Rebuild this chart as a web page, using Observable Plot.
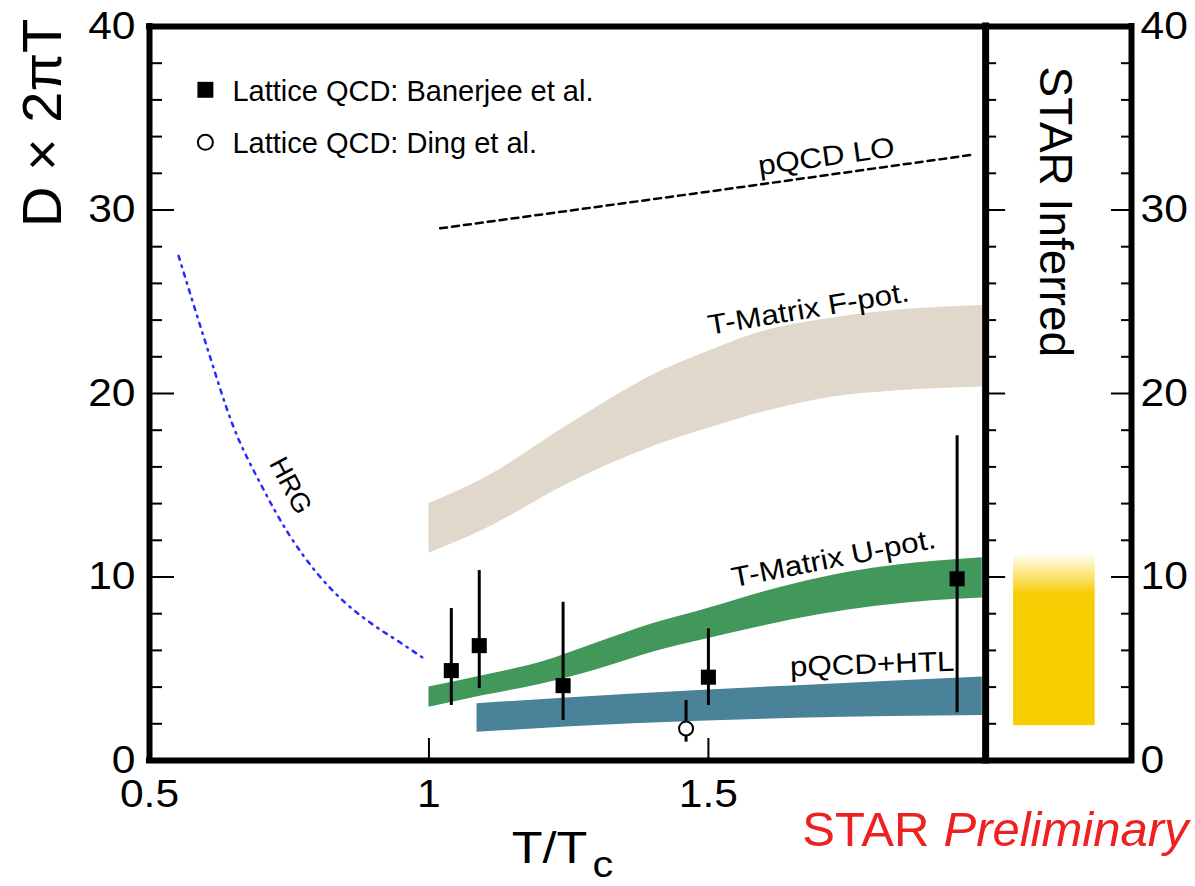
<!DOCTYPE html>
<html><head><meta charset="utf-8">
<script src="https://cdn.jsdelivr.net/npm/d3@7"></script>
<script src="https://cdn.jsdelivr.net/npm/@observablehq/plot@0.6"></script>
<style>body{margin:0;background:#fff}</style>
</head><body><div id="chart"></div>
<script>
// ---------- data ----------
const fpotT  = [1.0, 1.10, 1.25, 1.40, 1.50, 1.60, 1.72, 1.84, 1.99];
const fpotHi = [14.0, 15.4, 18.3, 21.0, 22.3, 23.4, 24.1, 24.55, 24.8];
const fpotLo = [11.3, 12.6, 15.1, 17.1, 18.1, 19.0, 19.8, 20.15, 20.35];

const upotT  = [1.0, 1.1, 1.2, 1.3, 1.4, 1.5, 1.6, 1.7, 1.8, 1.9, 1.99];
const upotHi = [4.0, 4.65, 5.35, 6.4, 7.45, 8.3, 9.2, 9.95, 10.5, 10.85, 11.05];
const upotLo = [2.9, 3.55, 4.15, 4.95, 5.9, 6.65, 7.35, 7.95, 8.4, 8.7, 8.85];

const htlT  = [1.086, 1.366, 1.66, 1.99];
const htlHi = [3.09, 3.63, 4.08, 4.55];
const htlLo = [1.54, 2.0, 2.3, 2.45];

const loT = [1.02, 1.5, 1.97];
const loD = [29.0, 31.0, 33.0];

const hrgT = [0.552, 0.60, 0.65, 0.70, 0.75, 0.80, 0.85, 0.90, 0.95, 0.994];
const hrgD = [27.5, 22.8, 18.2, 15.0, 12.3, 10.2, 8.6, 7.4, 6.4, 5.5];

const banT  = [1.04, 1.09, 1.24, 1.50, 1.945];
const banD  = [4.9, 6.26, 4.08, 4.54, 9.9];
const banLo = [3.0, 3.92, 2.18, 3.0, 2.6];
const banHi = [8.28, 10.35, 8.62, 7.17, 17.7];

const dingT  = [1.46];
const dingD  = [1.74];
const dingLo = [1.0];
const dingHi = [3.27];

const starX = [2.046, 2.192];          // STAR inferred box, T/Tc extent
const starD = [1.9, 9.0, 11.3];        // bottom, solid top, faded top

const legendLabels = ["Lattice QCD: Banerjee et al.", "Lattice QCD: Ding et al."];
const annotationLabels = ["pQCD LO", "T-Matrix F-pot.", "T-Matrix U-pot.", "pQCD+HTL", "HRG", "STAR Inferred"];

const xDomain = [0.5, 2.257];
const yDomain = [0, 40];
const xDivider = 1.996;
const xTickLabels = [0.5, 1, 1.5];
const xTicks = [1, 1.5];
const yTickLabels = [0, 10, 20, 30, 40];
const yMajor = [10, 20, 30];
const yMinor = [2,4,6,8,12,14,16,18,22,24,26,28,32,34,36,38];

// ---------- tables ----------
const band = (T, lo, hi) => T.map((t, i) => ({t, lo: lo[i], hi: hi[i]}));
const fpot = band(fpotT, fpotLo, fpotHi);
const upot = band(upotT, upotLo, upotHi);
const htl = band(htlT, htlLo, htlHi);
const lo = loT.map((t, i) => ({t, d: loD[i]}));
const hrg = hrgT.map((t, i) => ({t, d: hrgD[i]}));
const ban = banT.map((t, i) => ({t, d: banD[i], lo: banLo[i], hi: banHi[i]}));
const ding = dingT.map((t, i) => ({t, d: dingD[i], lo: dingLo[i], hi: dingHi[i]}));

const FONT = "'Liberation Sans', Arial, Helvetica, sans-serif";
const [xMin, xMax] = xDomain;
const [yMin, yMax] = yDomain;
const legY = [36.55, 33.69];
const legX = 0.6;
const WIDE = "wide";   // texts drawn slightly wider, like the reference's font

const chart = Plot.plot({
  width: 1195, height: 886,
  marginLeft: 149, marginRight: 64, marginTop: 26, marginBottom: 126,
  x: {domain: xDomain, axis: null},
  y: {domain: yDomain, axis: null},
  style: {fontFamily: FONT, background: "white", overflow: "visible"},
  marks: [
    // bands
    Plot.areaY(fpot, {x: "t", y1: "lo", y2: "hi", fill: "#e0d8ca", curve: "monotone-x"}),
    Plot.areaY(upot, {x: "t", y1: "lo", y2: "hi", fill: "#41985a", curve: "monotone-x"}),
    Plot.areaY(htl, {x: "t", y1: "lo", y2: "hi", fill: "#4a8399", curve: "monotone-x"}),
    // STAR inferred
    Plot.rect([0], {x1: starX[0], x2: starX[1], y1: starD[0], y2: starD[2], fill: "url(#starGrad)"}),
    // lines
    Plot.line(hrg, {x: "t", y: "d", stroke: "#2b2bff", strokeWidth: 2.5, strokeDasharray: "4,6,1.5,6", curve: "monotone-x"}),
    Plot.line(lo, {x: "t", y: "d", stroke: "black", strokeWidth: 2.5, strokeDasharray: "7,5"}),
    // error bars and points
    Plot.ruleX(ban, {x: "t", y1: "lo", y2: "hi", stroke: "black", strokeWidth: 3}),
    Plot.ruleX(ding, {x: "t", y1: "lo", y2: "hi", stroke: "black", strokeWidth: 3}),
    Plot.dot(ban, {x: "t", y: "d", symbol: "square", fill: "black", r: 8.5}),
    Plot.dot(ding, {x: "t", y: "d", fill: "white", stroke: "black", strokeWidth: 2, r: 7}),
    // frame
    Plot.ruleY([yMin, yMax], {x1: xMin, x2: xMax, stroke: "black", strokeWidth: 6, strokeLinecap: "square"}),
    Plot.ruleX([xMin, xMax], {y1: yMin, y2: yMax, stroke: "black", strokeWidth: 6, strokeLinecap: "square"}),
    Plot.ruleX([xDivider], {y1: yMin, y2: yMax, stroke: "black", strokeWidth: 7, strokeLinecap: "square"}),
    // ticks: left axis (inward)
    Plot.ruleY(yMajor, {x1: xMin, x2: xMin, insetRight: -25, stroke: "black", strokeWidth: 2}),
    Plot.ruleY(yMinor, {x1: xMin, x2: xMin, insetRight: -13, stroke: "black", strokeWidth: 2}),
    // ticks: divider (pointing right)
    Plot.ruleY(yMajor, {x1: xDivider, x2: xDivider, insetRight: -20, stroke: "black", strokeWidth: 2}),
    Plot.ruleY(yMinor, {x1: xDivider, x2: xDivider, insetRight: -11, stroke: "black", strokeWidth: 2}),
    // ticks: right frame (pointing left)
    Plot.ruleY(yMajor, {x1: xMax, x2: xMax, insetLeft: -20, stroke: "black", strokeWidth: 2}),
    Plot.ruleY(yMinor, {x1: xMax, x2: xMax, insetLeft: -10, stroke: "black", strokeWidth: 2}),
    // ticks: x axis
    Plot.ruleX(xTicks, {y1: yMin, y2: yMin, insetBottom: 22, stroke: "black", strokeWidth: 2}),
    // tick labels
    Plot.text(yTickLabels, {x: xMin, y: d => d, text: d => String(d), textAnchor: "end", dx: -14, fontSize: 38, fill: "black", ariaDescription: WIDE}),
    Plot.text(yTickLabels, {x: xMax, y: d => d, text: d => String(d), textAnchor: "start", dx: 9, fontSize: 38, fill: "black", ariaDescription: WIDE}),
    Plot.text(xTickLabels, {x: d => d, y: yMin, text: d => String(d), lineAnchor: "bottom", dy: 46, fontSize: 38, fill: "black", ariaDescription: WIDE}),
    // axis titles
    Plot.text(["T/T"], {x: 1.2835, y: yMin, text: d => d, textAnchor: "end", lineAnchor: "bottom", dy: 102, fontSize: 45, fill: "black", ariaDescription: WIDE}),
    Plot.text(["c"], {x: 1.2835, y: yMin, text: d => d, textAnchor: "start", lineAnchor: "bottom", dx: 5, dy: 116, fontSize: 37, fill: "black", ariaDescription: WIDE}),
    Plot.text(["D × 2πT"], {x: xMin, y: 34.75, text: d => d, rotate: -90, lineAnchor: "bottom", dx: -89, fontSize: 56, fill: "black"}),
    // legend
    Plot.dot([legendLabels[0]], {x: legX, y: legY[0], symbol: "square", fill: "black", r: 9}),
    Plot.dot([legendLabels[1]], {x: legX, y: legY[1], fill: "white", stroke: "black", strokeWidth: 2, r: 7.5}),
    Plot.text([legendLabels[0]], {x: legX, y: legY[0], text: d => d, textAnchor: "start", lineAnchor: "bottom", dx: 27, dy: 11, fontSize: 29, fill: "black"}),
    Plot.text([legendLabels[1]], {x: legX, y: legY[1], text: d => d, textAnchor: "start", lineAnchor: "bottom", dx: 27, dy: 10.5, fontSize: 29, fill: "black"}),
    // annotations
    Plot.text([annotationLabels[0]], {x: 1.711, y: 32.9, text: d => d, rotate: -8, fontSize: 28, fill: "black", ariaDescription: WIDE}),
    Plot.text([annotationLabels[1]], {x: 1.679, y: 24.6, text: d => d, rotate: -9.5, fontSize: 28, fill: "black", ariaDescription: WIDE}),
    Plot.text([annotationLabels[2]], {x: 1.724, y: 11.0, text: d => d, rotate: -11, fontSize: 28, fill: "black", ariaDescription: WIDE}),
    Plot.text([annotationLabels[3]], {x: 1.793, y: 5.23, text: d => d, rotate: -2, fontSize: 28, fill: "black", ariaDescription: WIDE}),
    Plot.text([annotationLabels[4]], {x: 0.752, y: 14.98, text: d => d, rotate: 62, fontSize: 27, fill: "black"}),
    Plot.text([annotationLabels[5]], {x: (starX[0] + starX[1]) / 2, y: 29.9, text: d => d, rotate: 90, fontSize: 46, fill: "black"}),
    // STAR Preliminary
    Plot.text(["STAR"], {x: 1.668, y: yMin, text: d => d, textAnchor: "start", lineAnchor: "bottom", dy: 85, fontSize: 49, fill: "#ee2020"}),
    Plot.text(["Preliminary"], {x: 2.359, y: yMin, text: d => d, textAnchor: "end", lineAnchor: "bottom", dy: 85, fontSize: 49, fontStyle: "italic", fill: "#ee2020"})
  ]
});

// slightly wider glyphs along the text direction for the tagged texts
chart.querySelectorAll(`g[aria-description="${WIDE}"] text`).forEach(t => {
  const tr = t.getAttribute("transform");
  if (tr) t.setAttribute("transform", tr + " scale(1.12,1)");
});

// gradient for the STAR inferred box (solid below, fading out at the top)
const fadeStop = (starD[2] - starD[1]) / (starD[2] - starD[0]);
const defs = document.createElementNS("http://www.w3.org/2000/svg", "defs");
defs.innerHTML = `<linearGradient id="starGrad" x1="0" y1="0" x2="0" y2="1">
  <stop offset="0" stop-color="#f7cc00" stop-opacity="0"/>
  <stop offset="${fadeStop}" stop-color="#f7cc00" stop-opacity="1"/>
  <stop offset="1" stop-color="#f7cc00" stop-opacity="1"/></linearGradient>`;
chart.prepend(defs);
document.getElementById("chart").appendChild(chart);
</script>
</body></html>
